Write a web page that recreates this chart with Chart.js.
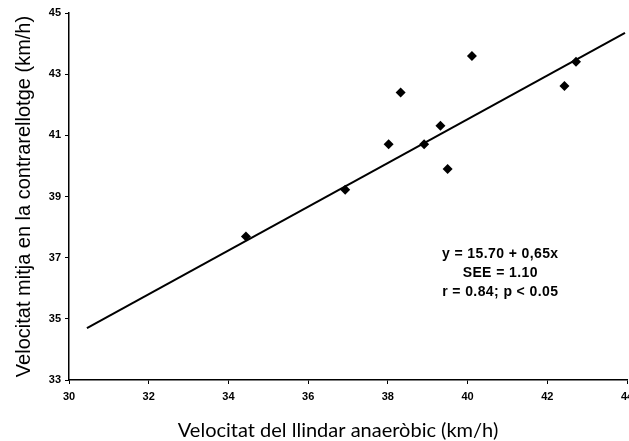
<!DOCTYPE html>
<html>
<head>
<meta charset="utf-8">
<script src="https://cdn.jsdelivr.net/npm/chart.js@4/dist/chart.umd.min.js"></script>
<style>
  html, body { margin: 0; padding: 0; background: #fff; overflow: hidden; }
  #wrap { width: 640px; height: 441px; }
</style>
</head>
<body>
<div id="wrap"><canvas id="chart"></canvas></div>
<script>
// Data
const thresholdSpeed = [34.44, 36.93, 38.02, 38.32, 38.91, 39.32, 39.50, 40.11, 42.43, 42.72];
const timeTrialSpeed = [37.69, 39.22, 40.71, 42.40, 40.71, 41.31, 39.90, 43.59, 42.61, 43.41];

// Regression line as drawn (end points)
const lineX = [30.45, 43.95];
const lineY = [34.70, 44.35];

const xTicks = [30, 32, 34, 36, 38, 40, 42, 44];
const yTicks = [33, 35, 37, 39, 41, 43, 45];

const xTitle = 'Velocitat del llindar anaeròbic (km/h)';
const yTitle = 'Velocitat mitja en la contrarellotge (km/h)';

const noteLines = ['y = 15.70 + 0,65x', 'SEE = 1.10', 'r = 0.84; p < 0.05'];
const notePos = { x: 40.82, y: 37.1 };

const tickFont = { family: 'Liberation Sans', size: 11, weight: 'bold' };

// Regression statistics and the x axis title (the latter sits off-centre in the original)
const notePlugin = {
  id: 'note',
  afterDraw(chart) {
    const { ctx, scales, chartArea } = chart;
    const cx = scales.x.getPixelForValue(notePos.x);
    const cy = scales.y.getPixelForValue(notePos.y);
    ctx.save();
    ctx.fillStyle = '#000';
    ctx.font = 'bold 14px "Liberation Sans"';
    ctx.letterSpacing = '0.4px';
    ctx.textAlign = 'center';
    ctx.textBaseline = 'middle';
    noteLines.forEach((t, i) => ctx.fillText(t, cx, cy + i * 19));

    ctx.letterSpacing = '0px';
    ctx.font = '20px Lato';
    ctx.textBaseline = 'alphabetic';
    ctx.fillText(xTitle, scales.x.getPixelForValue(36.75), chartArea.bottom + 57);
    ctx.restore();
  }
};

new Chart(document.getElementById('chart'), {
  type: 'scatter',
  data: {
    datasets: [
      {
        label: 'Regressió',
        type: 'line',
        data: lineX.map((x, i) => ({ x: x, y: lineY[i] })),
        borderColor: '#000',
        borderWidth: 2,
        pointRadius: 0,
        fill: false
      },
      {
        label: 'Ciclistes',
        data: thresholdSpeed.map((x, i) => ({ x: x, y: timeTrialSpeed[i] })),
        pointStyle: 'rectRot',
        pointRadius: 5,
        backgroundColor: '#000',
        borderColor: '#000',
        borderWidth: 0
      }
    ]
  },
  options: {
    responsive: true,
    maintainAspectRatio: false,
    animation: false,
    layout: {
      padding: { top: 13, right: 13, left: 8, bottom: 0 }
    },
    plugins: {
      legend: { display: false },
      tooltip: { enabled: false }
    },
    scales: {
      x: {
        type: 'linear',
        min: 30,
        max: 44,
        afterBuildTicks: (scale) => { scale.ticks = xTicks.map(v => ({ value: v })); },
        afterFit: (scale) => { scale.height = 61; },
        border: { color: '#000', width: 1.5 },
        grid: { drawOnChartArea: false, color: '#000', tickLength: 4 },
        ticks: { color: '#000', font: tickFont, padding: 6, maxRotation: 0 },
        title: { display: false }
      },
      y: {
        type: 'linear',
        min: 33,
        max: 45,
        afterBuildTicks: (scale) => { scale.ticks = yTicks.map(v => ({ value: v })); },
        afterFit: (scale) => { scale.width = 61; },
        border: { color: '#000', width: 1.5 },
        grid: { drawOnChartArea: false, color: '#000', tickLength: 4 },
        ticks: { color: '#000', font: tickFont, padding: 4 },
        title: {
          display: true,
          text: yTitle,
          color: '#000',
          font: { family: 'Liberation Sans', size: 20 },
          padding: { bottom: 0 }
        }
      }
    }
  },
  plugins: [notePlugin]
});
</script>
</body>
</html>
